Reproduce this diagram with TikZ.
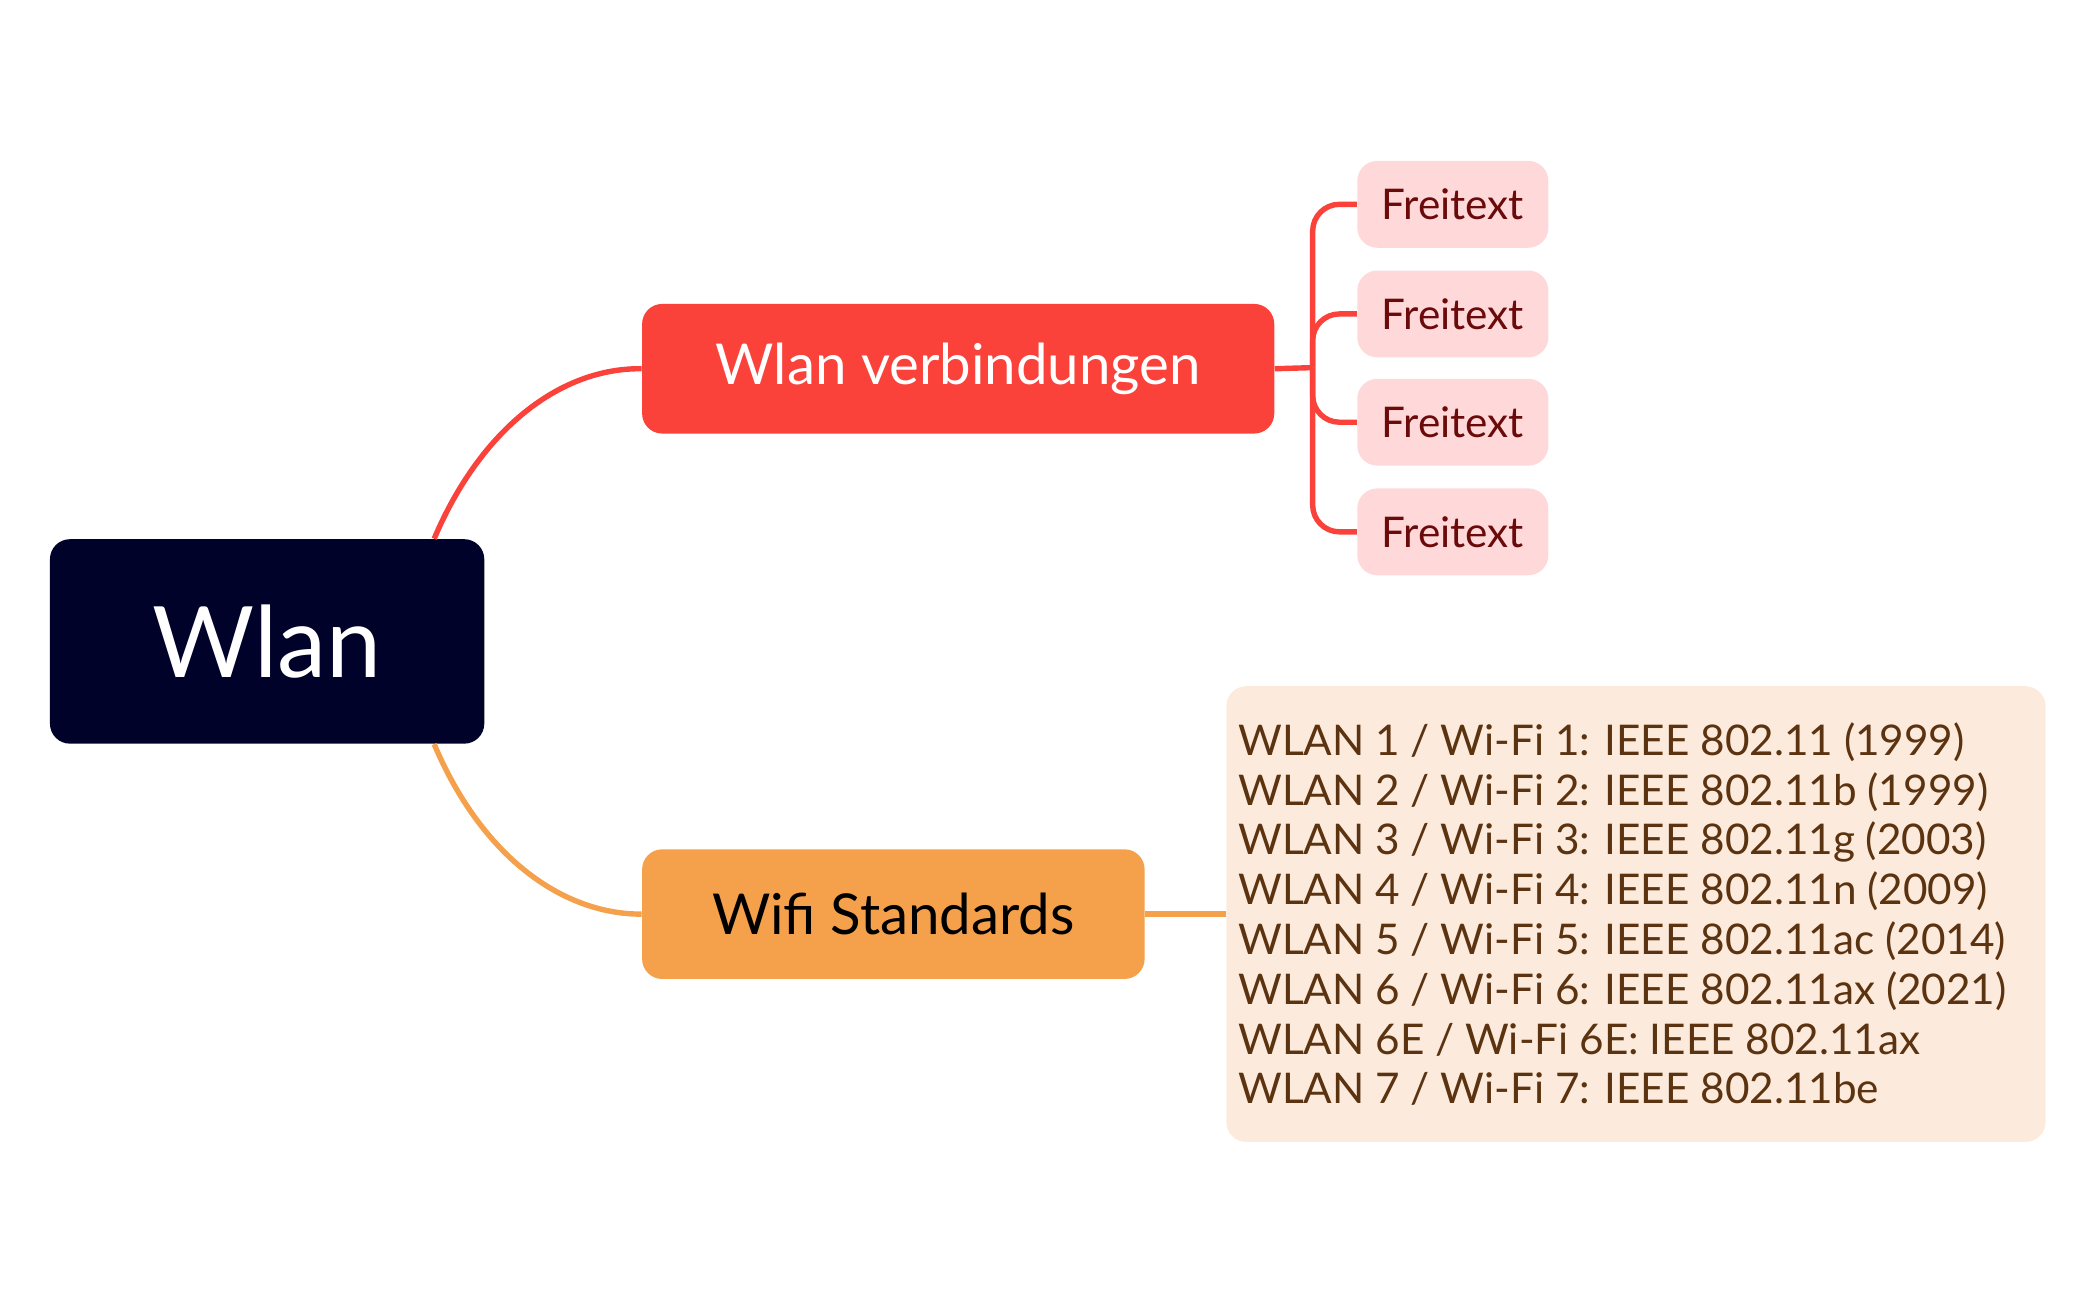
\documentclass[tikz,border=0pt]{standalone}
\usepackage{fontspec}
\setmainfont{Lato}
\usetikzlibrary{positioning}
\definecolor{rootc}{HTML}{000229}
\definecolor{redc}{HTML}{FA423B}
\definecolor{pinkc}{HTML}{FFD9D9}
\definecolor{darkred}{HTML}{6B0A0A}
\definecolor{orangec}{HTML}{F5A04A}
\definecolor{creamc}{HTML}{FCEBDC}
\definecolor{brownc}{HTML}{5C3310}
\tikzset{
  box/.style={rectangle, rounded corners=0.3cm, inner sep=0pt, anchor=north west},
  leaf/.style={box, fill=pinkc, text=darkred, font=\fontsize{18}{20}\selectfont, minimum width=2.86cm, minimum height=1.3cm},
  line/.style={line width=2.3pt}
}
\begin{document}
\begin{tikzpicture}[x=0.02cm, y=-0.02cm]
  \useasboundingbox (0,0) rectangle (1568,975);
  % Place nodes
  \node [box, fill=rootc, text=white, font=\fontsize{42}{46}\selectfont, minimum width=6.5cm, minimum height=3.06cm] (wlan) at (37,403) {Wlan};
  \node [box, fill=redc, text=white, font=\fontsize{24}{28}\selectfont, minimum width=9.46cm, minimum height=1.94cm] (verb) at (480,227) {Wlan verbindungen};
  \node [leaf] (f1) at (1015,120) {Freitext};
  \node [leaf] (f2) at (1015,202) {Freitext};
  \node [leaf] (f3) at (1015,283) {Freitext};
  \node [leaf] (f4) at (1015,365) {Freitext};
  \node [box, fill=orangec, text=black, font=\fontsize{24}{28}\selectfont, minimum width=7.52cm, minimum height=1.94cm] (std) at (480,635) {Wifi Standards};
  \node [box, fill=creamc, text=brownc, font=\fontsize{18}{21.2}\selectfont, align=left, minimum width=12.26cm, minimum height=6.82cm] (list) at (917,513) {%
    \parbox[c][6.6cm][c]{11.9cm}{WLAN 1 / Wi-Fi 1: IEEE 802.11 (1999)\\
    WLAN 2 / Wi-Fi 2: IEEE 802.11b (1999)\\
    WLAN 3 / Wi-Fi 3: IEEE 802.11g (2003)\\
    WLAN 4 / Wi-Fi 4: IEEE 802.11n (2009)\\
    WLAN 5 / Wi-Fi 5: IEEE 802.11ac (2014)\\
    WLAN 6 / Wi-Fi 6: IEEE 802.11ax (2021)\\
    WLAN 6E / Wi-Fi 6E: IEEE 802.11ax\\
    WLAN 7 / Wi-Fi 7: IEEE 802.11be}};
  \coordinate (fork) at (982,275);
  % Draw edges
  \draw [line, redc] ([xshift=2.5cm]wlan.north) .. controls (360,320) and (420,275) .. (verb.west);
  \draw [line, orangec] ([xshift=2.5cm]wlan.south) .. controls (360,640) and (420,684) .. (std.west);
  \draw [line, redc] (verb.east) -- (fork);
  \foreach \f in {f1,f2,f3,f4}
    \draw [line, redc, rounded corners=0.4cm] (fork) |- (\f.west);
  \draw [line, orangec] (std.east) -- (list.west |- std.east);
\end{tikzpicture}
\end{document}
